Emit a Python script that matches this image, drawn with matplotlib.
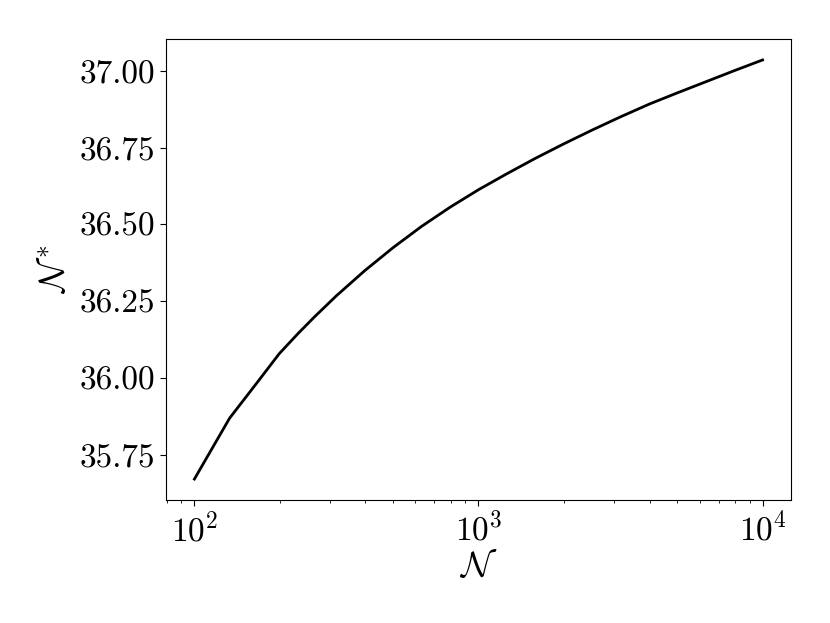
import matplotlib
matplotlib.use('Agg')
import matplotlib.pyplot as plt

plt.rcParams['mathtext.fontset'] = 'cm'
plt.rcParams['font.family'] = 'serif'
plt.rcParams['font.serif'] = ['cmr10']
plt.rcParams['axes.formatter.use_mathtext'] = True

# values
n_vals = [100, 133, 166, 199, 232, 265, 316, 398, 501, 631, 794, 1000, 1259,
          1585, 1995, 2512, 3162, 3981, 5012, 6310, 7943, 10000]
n_star = [35.672, 35.870, 35.985, 36.080, 36.146, 36.200, 36.268, 36.350,
          36.425, 36.494, 36.556, 36.613, 36.665, 36.715, 36.762, 36.807,
          36.850, 36.891, 36.928, 36.964, 37.000, 37.035]
y_ticks = [35.75, 36.00, 36.25, 36.50, 36.75, 37.00]

fig = plt.figure(figsize=(8.3, 6.23), dpi=100)
ax = fig.add_axes([0.2, 0.1974, 0.753, 0.74])

ax.plot(n_vals, n_star, color='black', lw=2)
ax.set_xscale('log')
ax.set_yticks(y_ticks)
ax.set_yticklabels([f'{t:.2f}' for t in y_ticks])

ax.tick_params(axis='both', which='major', labelsize=24, length=4.5)
ax.tick_params(axis='x', which='minor', length=2.5)

ax.set_xlabel(r'$\mathcal{N}$', fontsize=26, labelpad=2)
ax.set_ylabel(r'$\mathcal{N}^*$', fontsize=26, labelpad=6)

fig.savefig('out.png', dpi=100)
